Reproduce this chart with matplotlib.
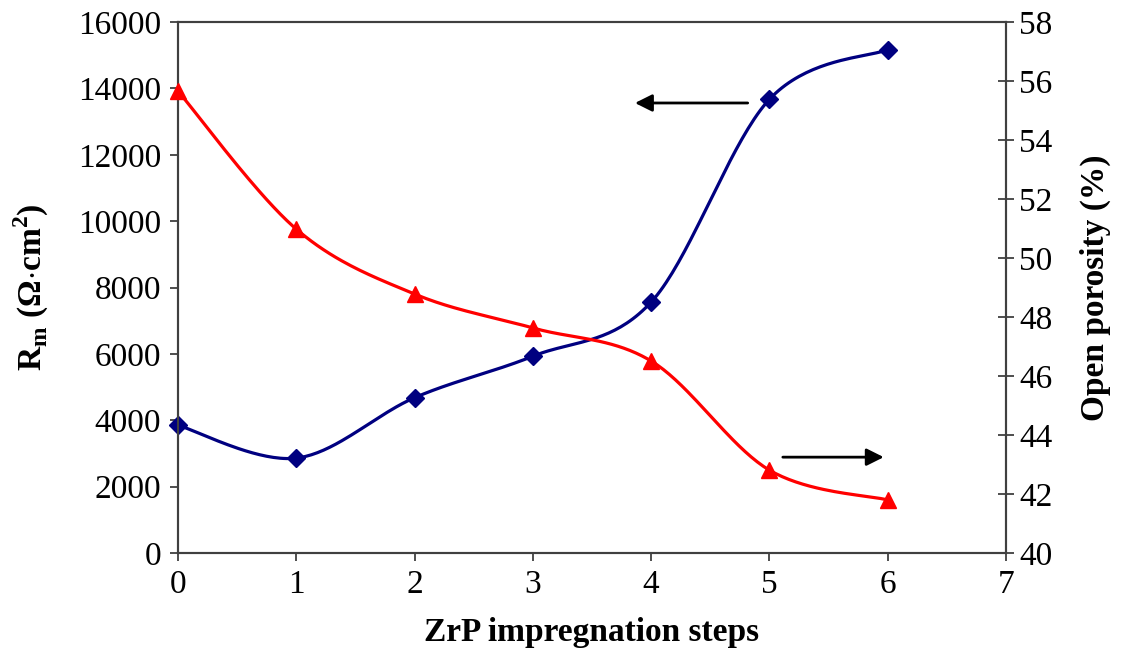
import numpy as np
import matplotlib
matplotlib.use('Agg')
import matplotlib.pyplot as plt

# data
steps = [0, 1, 2, 3, 4, 5, 6]
rm_vals = [3850, 2860, 4680, 5930, 7560, 13670, 15170]      # Ohm.cm2, left axis
porosity = [55.66, 50.98, 48.78, 47.63, 46.51, 42.81, 41.80]  # %, right axis

plt.rcParams['font.family'] = ['Liberation Serif', 'DejaVu Serif']
plt.rcParams['mathtext.fontset'] = 'custom'
plt.rcParams['mathtext.rm'] = 'Liberation Serif:bold'
plt.rcParams['mathtext.bf'] = 'Liberation Serif:bold'

AXC = '#404040'


def smooth(x, y, n=40):
    # Excel-like smoothed line: Bezier segments with Catmull-Rom control points
    x = np.asarray(x, float)
    y = np.asarray(y, float)
    px = np.concatenate([[x[0]], x, [x[-1]]])
    py = np.concatenate([[y[0]], y, [y[-1]]])
    t = np.linspace(0, 1, n)
    xs, ys = [], []
    for i in range(1, len(px) - 2):
        p0 = np.array([px[i], py[i]])
        p3 = np.array([px[i + 1], py[i + 1]])
        c1 = p0 + (p3 - np.array([px[i - 1], py[i - 1]])) / 6
        c2 = p3 - (np.array([px[i + 2], py[i + 2]]) - p0) / 6
        b = ((1 - t) ** 3)[:, None] * p0 + (3 * (1 - t) ** 2 * t)[:, None] * c1 \
            + (3 * (1 - t) * t ** 2)[:, None] * c2 + (t ** 3)[:, None] * p3
        xs.append(b[:, 0])
        ys.append(b[:, 1])
    return np.concatenate(xs), np.concatenate(ys)


fig = plt.figure(figsize=(11.22, 6.59), dpi=100)
ax = fig.add_axes([0.1586, 0.1608, 0.738, 0.8058])
ax2 = ax.twinx()

# blue Rm curve
sx, sy = smooth(steps, rm_vals)
ax.plot(sx, sy, color='#000080', lw=2.3, zorder=3)
ax.plot(steps, rm_vals, ls='none', marker='D', ms=9, color='#000080', zorder=4,
        clip_on=False)

# red porosity curve
sx, sy = smooth(steps, porosity)
ax2.plot(sx, sy, color='#ff0000', lw=2.3, zorder=3)
ax2.plot(steps, porosity, ls='none', marker='^', ms=12, color='#ff0000', zorder=4,
         clip_on=False)

ax.set_xlim(0, 7)
ax.set_ylim(0, 16000)
ax2.set_ylim(40, 58)
ax.set_xticks(range(0, 8))
ax.set_yticks(range(0, 16001, 2000))
ax2.set_yticks(range(40, 59, 2))

for a in (ax, ax2):
    for s in a.spines.values():
        s.set_color(AXC)
        s.set_linewidth(1.5)

ax.tick_params(axis='both', direction='out', length=6, width=1.3, color=AXC,
               labelsize=24, pad=6)
ax.tick_params(axis='x', pad=6)
ax2.tick_params(axis='y', direction='inout', length=11, width=1.3, color=AXC,
                labelsize=24, pad=4)

ax.set_xlabel('ZrP impregnation steps', fontsize=24, fontweight='bold', labelpad=12)
ax.set_ylabel(r'R$_\mathrm{m}$ ($\mathbf{\Omega}$$\cdot$cm$^\mathrm{2}$)', fontsize=24,
              fontweight='bold')
ax.yaxis.set_label_coords(-0.153, 0.5)
ax2.set_ylabel('Open porosity (%)', fontsize=24, fontweight='bold', rotation=90)
ax2.yaxis.set_label_coords(1.089, 0.5)

# direction arrows
ax.annotate('', xy=(3.84, 13560), xytext=(4.84, 13560),
            arrowprops=dict(arrowstyle='-|>', color='black', lw=2,
                            mutation_scale=26))
ax2.annotate('', xy=(5.99, 43.25), xytext=(5.09, 43.25),
             arrowprops=dict(arrowstyle='-|>', color='black', lw=2,
                             mutation_scale=26))

fig.savefig('out.png', dpi=100)
plt.close(fig)
